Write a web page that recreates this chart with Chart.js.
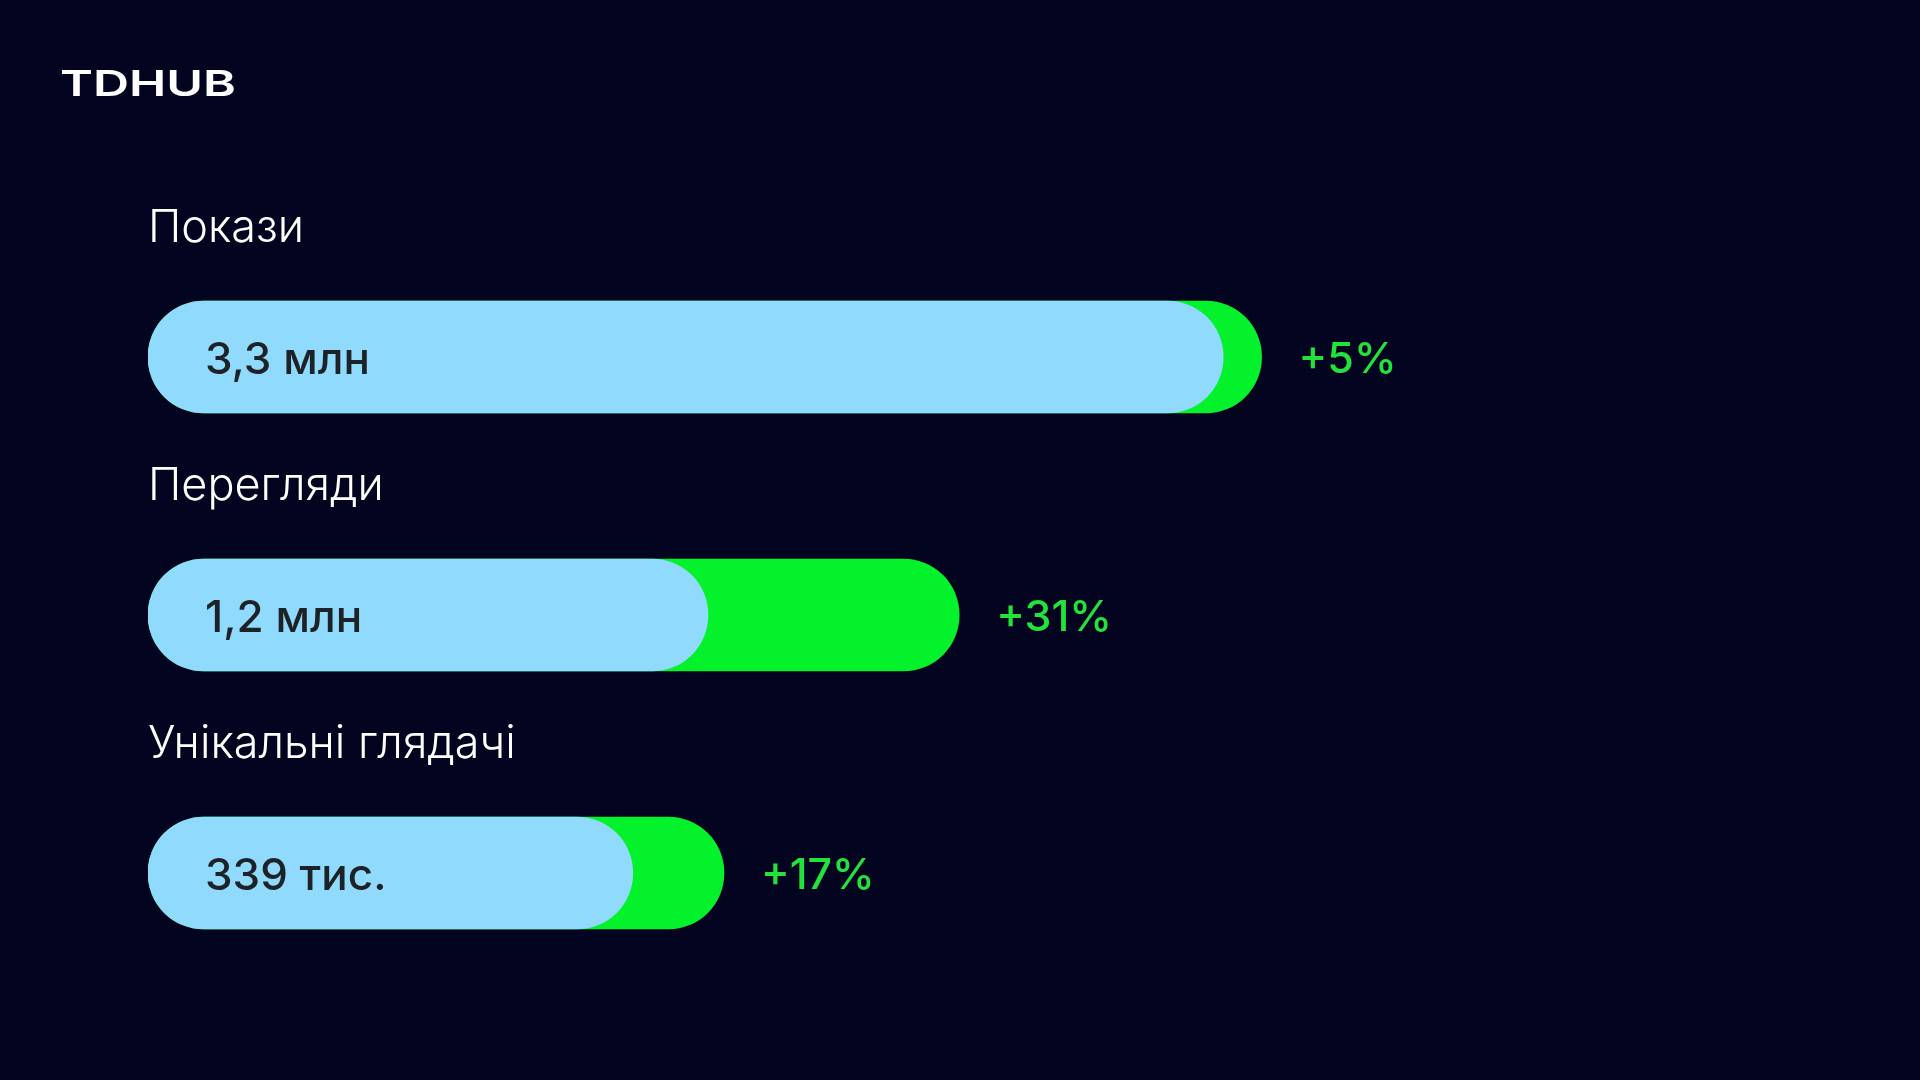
<!DOCTYPE html>
<html lang="uk">
<head>
<meta charset="utf-8">
<title>TDHUB</title>
<script src="https://cdn.jsdelivr.net/npm/chart.js@4"></script>
<style>
  html, body { margin: 0; padding: 0; background: #03041f; }
  canvas { display: block; }
</style>
</head>
<body>
<canvas id="chartTdhub" width="1920" height="1080"></canvas>
<script>
// Дані
var categories = ['Покази', 'Перегляди', 'Унікальні глядачі'];
var valueLabels = ['3,3 млн', '1,2 млн', '339 тис.'];
var changeLabels = ['+5%', '+31%', '+17%'];
// довжина смуг в умовних одиницях (шкала 0–100)
var baseBars = [67.2, 35.0, 30.3];
var growthBars = [69.6, 50.7, 36.0];

var BG = '#03041f';
var BLUE = '#90dafe';
var GREEN = '#04f22b';

document.addEventListener('DOMContentLoaded', function () {
    var ctx = document.getElementById('chartTdhub').getContext('2d');

    // Фон, логотип і підписи
    var labelsPlugin = {
        id: 'labelsPlugin',
        beforeDraw: function (chart) {
            var c = chart.ctx;
            c.save();
            c.fillStyle = BG;
            c.fillRect(0, 0, chart.width, chart.height);
            c.restore();
        },
        afterDatasetsDraw: function (chart) {
            var c = chart.ctx;
            var area = chart.chartArea;
            var yScale = chart.scales.y;
            var greenMeta = chart.getDatasetMeta(1);

            c.save();
            // логотип
            c.font = '600 36px Inter';
            c.fillStyle = '#ffffff';
            c.textBaseline = 'alphabetic';
            var w = c.measureText('TDHUB').width;
            c.translate(60, 96);
            c.scale(176 / w, 1);
            c.fillText('TDHUB', 0, 0);
            c.restore();

            c.save();
            c.textBaseline = 'alphabetic';
            categories.forEach(function (cat, i) {
                var y = yScale.getPixelForValue(i);
                // назва показника
                c.font = '300 45px Inter';
                c.fillStyle = '#ffffff';
                c.textAlign = 'left';
                c.fillText(cat, area.left, y - 115);
                // значення
                c.font = '500 44px Inter';
                c.fillStyle = '#1d2226';
                c.fillText(valueLabels[i], area.left + 57, y + 17);
                // зміна
                var bar = greenMeta.data[i];
                c.font = '500 43px Inter';
                c.fillStyle = '#22e23c';
                c.fillText(changeLabels[i], bar.x + 37, y + 16);
            });
            c.restore();
        }
    };

    var data = {
        labels: categories,
        datasets: [
            {
                label: 'Значення',
                data: baseBars,
                backgroundColor: BLUE,
                borderWidth: 0,
                borderRadius: 56,
                borderSkipped: false,
                barThickness: 112,
                grouped: false
            },
            {
                label: 'Приріст',
                data: growthBars,
                backgroundColor: GREEN,
                borderWidth: 0,
                borderRadius: 56,
                borderSkipped: false,
                barThickness: 112,
                grouped: false
            }
        ]
    };

    var options = {
        indexAxis: 'y',
        responsive: false,
        animation: false,
        layout: {
            padding: { left: 148, right: 172, top: 228, bottom: 78 }
        },
        plugins: {
            legend: { display: false },
            tooltip: { enabled: false }
        },
        scales: {
            x: { display: false, min: 0, max: 100 },
            y: { display: false }
        }
    };

    new Chart(ctx, {
        type: 'bar',
        data: data,
        options: options,
        plugins: [labelsPlugin]
    });
});
</script>
</body>
</html>
